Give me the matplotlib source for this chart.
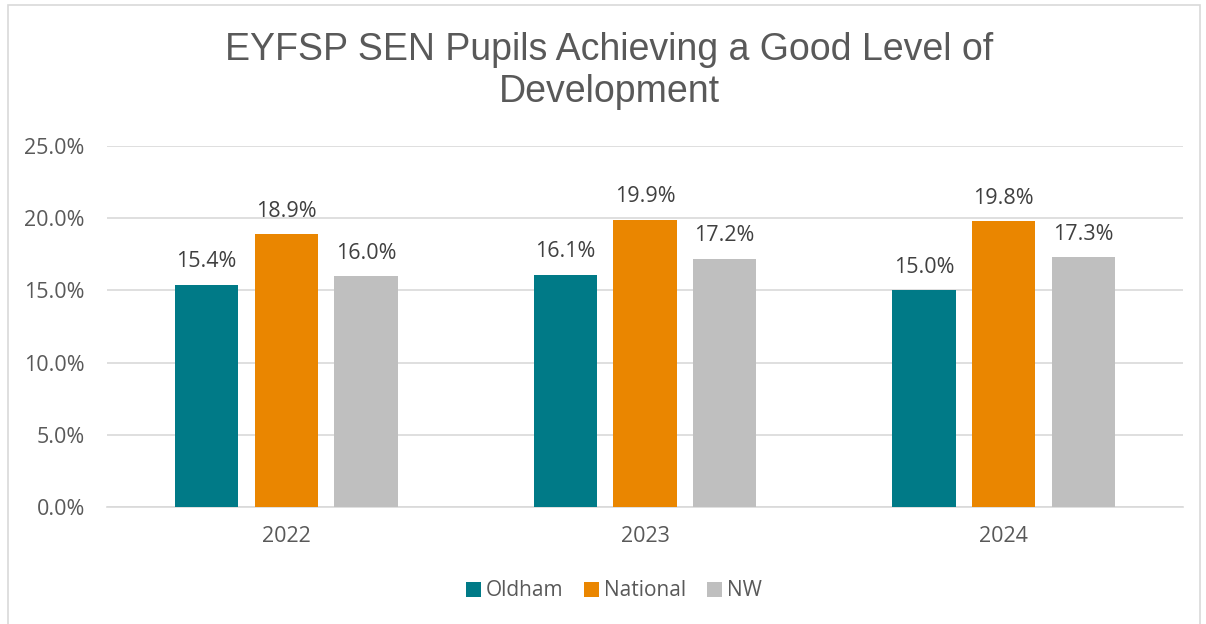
import matplotlib
matplotlib.use('Agg')
import matplotlib.pyplot as plt
import numpy as np
from matplotlib.patches import Rectangle
from matplotlib.ticker import FuncFormatter

years = ['2022', '2023', '2024']
oldham = [15.4, 16.1, 15.0]
national = [18.9, 19.9, 19.8]
nw = [16.0, 17.2, 17.3]

series = [('Oldham', oldham, '#007A87'),
          ('National', national, '#EA8600'),
          ('NW', nw, '#BFBFBF')]

plt.rcParams['font.family'] = ['Open Sans', 'DejaVu Sans']
text_col = '#595959'
fs = 15.5

fig = plt.figure(figsize=(12.06, 6.24), dpi=100)
ax = fig.add_axes([107 / 1206, 1 - 507 / 624, 1076 / 1206, 361 / 624])

x = np.arange(len(years))
width = 0.176
offset = 0.222
for i, (name, vals, col) in enumerate(series):
    pos = x + (i - 1) * offset
    bars = ax.bar(pos, vals, width, color=col, label=name, zorder=3)
    for b, v in zip(bars, vals):
        ax.text(b.get_x() + b.get_width() / 2, v + 0.85, f'{v:.1f}%',
                ha='center', va='bottom', fontsize=fs, color='#404040')

ax.set_xlim(-0.5, 2.5)
ax.set_ylim(0, 25)
ax.set_yticks(np.arange(0, 26, 5))
ax.yaxis.set_major_formatter(FuncFormatter(lambda v, _: f'{v:.1f}%'))
ax.set_xticks(x)
ax.set_xticklabels(years)
ax.grid(axis='y', color='#D9D9D9', linewidth=1.2, zorder=0)
for s in ['top', 'right', 'left']:
    ax.spines[s].set_visible(False)
ax.spines['bottom'].set_color('#D9D9D9')
ax.spines['bottom'].set_linewidth(1.2)
ax.tick_params(axis='both', length=0, labelsize=fs, colors=text_col)
ax.tick_params(axis='y', pad=16)
ax.tick_params(axis='x', pad=14)

fig.text(0.505, 1 - 71 / 624, 'EYFSP SEN Pupils Achieving a Good Level of\nDevelopment',
         ha='center', va='center', fontsize=27, color=text_col,
         family=['Liberation Sans', 'DejaVu Sans'], linespacing=1.2)

fig.legend(loc='center', bbox_to_anchor=(0.509, 1 - 591 / 624), ncol=3,
           frameon=False, fontsize=15, labelcolor=text_col,
           handlelength=0.7, handleheight=0.7, handletextpad=0.25, columnspacing=1.0)

fig.patches.append(Rectangle((8 / 1206, -0.01), 1192 / 1206, 1 - 5 / 624 + 0.01,
                             transform=fig.transFigure, fill=False,
                             edgecolor='#D9D9D9', linewidth=1.2))

fig.savefig('out.png', dpi=100)
